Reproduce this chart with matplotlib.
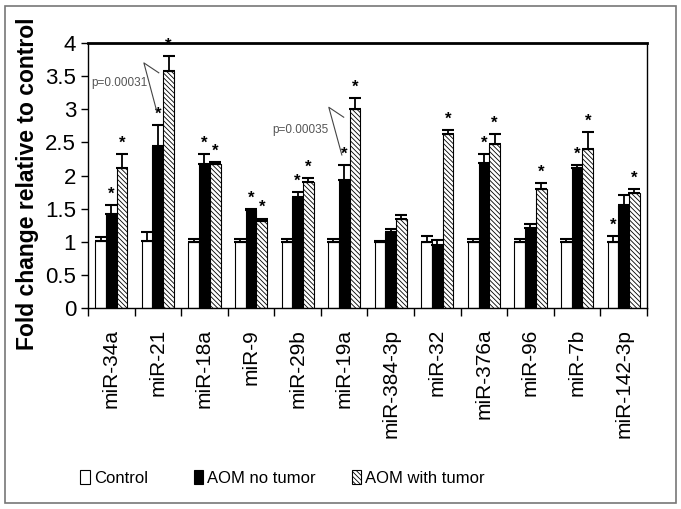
import matplotlib.pyplot as plt
import matplotlib.patches as mpatches
import numpy as np

plt.rcParams['font.family'] = ['Liberation Sans', 'DejaVu Sans']
plt.rcParams['hatch.linewidth'] = 0.6

mirnas = ['miR-34a', 'miR-21', 'miR-18a', 'miR-9', 'miR-29b', 'miR-19a',
          'miR-384-3p', 'miR-32', 'miR-376a', 'miR-96', 'miR-7b', 'miR-142-3p']

control = [1.01, 1.01, 1.0, 1.0, 1.0, 1.0, 1.0, 1.0, 1.0, 1.0, 1.0, 1.0]
control_err = [0.06, 0.13, 0.04, 0.04, 0.04, 0.04, 0.01, 0.08, 0.04, 0.04, 0.04, 0.08]
no_tumor = [1.42, 2.45, 2.17, 1.48, 1.67, 1.93, 1.14, 0.95, 2.19, 1.21, 2.11, 1.55]
no_tumor_err = [0.13, 0.31, 0.16, 0.01, 0.08, 0.23, 0.06, 0.07, 0.13, 0.06, 0.05, 0.15]
with_tumor = [2.11, 3.57, 2.17, 1.31, 1.90, 3.01, 1.34, 2.62, 2.47, 1.80, 2.40, 1.73]
with_tumor_err = [0.21, 0.23, 0.03, 0.04, 0.06, 0.16, 0.06, 0.07, 0.15, 0.09, 0.25, 0.07]

# which bars get a significance star
star_control = [0, 0, 0, 0, 0, 0, 0, 0, 0, 0, 0, 1]
star_no_tumor = [1, 1, 1, 1, 1, 1, 0, 0, 1, 0, 1, 0]
star_with_tumor = [1, 1, 1, 1, 1, 1, 0, 1, 1, 1, 1, 1]

fig = plt.figure(figsize=(6.81, 5.09), dpi=100)
ax = fig.add_axes([0.1292, 0.3949, 0.8208, 0.5206])

x = np.arange(len(mirnas))
w = 0.23
series = [
    (control, control_err, star_control, 'white', None, 'Control'),
    (no_tumor, no_tumor_err, star_no_tumor, 'black', None, 'AOM no tumor'),
    (with_tumor, with_tumor_err, star_with_tumor, 'white', '\\\\\\\\\\\\\\', 'AOM with tumor'),
]
handles = []
for k, (vals, errs, stars, fc, hatch, name) in enumerate(series):
    xs = x + (k - 1) * w
    vals = np.array(vals)
    errs = np.array(errs)
    b = ax.bar(xs, vals, w, color=fc, edgecolor='black', hatch=hatch,
               linewidth=0.8, label=name, zorder=2)
    ax.errorbar(xs, vals, yerr=[np.zeros_like(errs), errs], fmt='none',
                ecolor='black', elinewidth=1.3, capsize=4, capthick=1.5, zorder=3)
    for xi, v, e, s in zip(xs, vals, errs, stars):
        if s:
            ax.text(xi, v + e + 0.05, '*', ha='center', va='bottom',
                    fontsize=12, fontweight='bold')
    handles.append(b)

# p-value callouts
ax.plot([0.98, 0.70, 1.02], [2.96, 3.70, 3.55], color='#444444', lw=0.8, zorder=4)
ax.text(0.18, 3.40, 'p=0.00031', color='#555555', fontsize=8.5, ha='center', va='center')
ax.plot([4.95, 4.67, 4.99], [2.31, 3.03, 2.88], color='#444444', lw=0.8, zorder=4)
ax.text(4.07, 2.69, 'p=0.00035', color='#555555', fontsize=8.5, ha='center', va='center')

ax.set_xlim(-0.5, len(mirnas) - 0.5)
ax.set_ylim(0, 4)
ax.set_yticks(np.arange(0, 4.01, 0.5))
ax.set_yticklabels(['0', '0.5', '1', '1.5', '2', '2.5', '3', '3.5', '4'], fontsize=16)
ax.set_xticks(np.arange(-0.5, len(mirnas), 1.0))
ax.set_xticklabels([])
ax.set_xticks(x, minor=True)
ax.set_xticklabels(mirnas, minor=True, rotation=90, fontsize=15)
ax.tick_params(axis='x', which='minor', length=0, pad=15)
ax.tick_params(axis='x', which='major', length=6, direction='out', width=1)
ax.tick_params(axis='y', length=5, direction='out', width=1)
for side in ['left', 'bottom', 'right']:
    ax.spines[side].set_linewidth(1.0)
ax.spines['top'].set_linewidth(2.0)

ax.set_ylabel('Fold change relative to control', fontsize=16.5, fontweight='bold')
ax.yaxis.set_label_coords(-0.088, 0.47)

# legend: one entry per block, placed where the reference has them
for h, xpos in zip(handles, [0.118, 0.285, 0.517]):
    fig.legend(handles=[h], loc='center left', bbox_to_anchor=(xpos, 0.061),
               frameon=False, fontsize=12, handlelength=0.55, handleheight=0.9,
               handletextpad=0.25, borderaxespad=0, borderpad=0)

# outer frame
fig.patches.append(mpatches.Rectangle((0.008, 0.012), 0.984, 0.976, transform=fig.transFigure,
                                      fill=False, edgecolor='#777777', linewidth=1.2))

fig.savefig('out.png', dpi=100)
